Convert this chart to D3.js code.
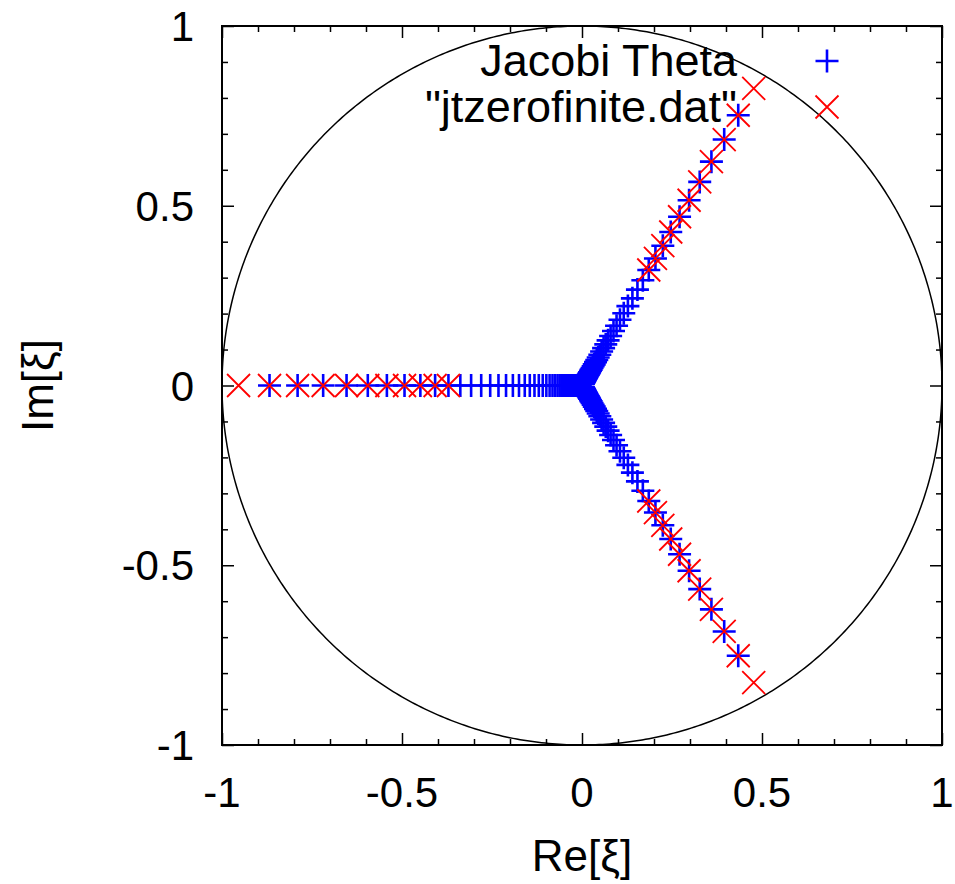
<!DOCTYPE html>
<html>
<head>
<meta charset="utf-8">
<script src="https://cdn.jsdelivr.net/npm/d3@7"></script>
<style>
  body { margin: 0; background: #fff; }
  svg text { font-family: "Liberation Sans", Arial, Helvetica, sans-serif; fill: #000; }
</style>
</head>
<body>
<svg id="chart" width="955" height="884"></svg>
<script>
// zeros lie on three rays (degrees)
const rayAngles = [180, 60, -60];

// |xi| of the "Jacobi Theta" zeros (outer to inner)
const thetaRadius = [
  0.868, 0.790, 0.719, 0.654, 0.595, 0.542, 0.493, 0.449, 0.408, 0.371,
  0.338, 0.308, 0.280, 0.255, 0.232, 0.211, 0.192, 0.175, 0.159, 0.145,
  0.132, 0.120, 0.109, 0.099, 0.090, 0.082, 0.075, 0.068, 0.062, 0.056,
  0.051, 0.047, 0.042, 0.039, 0.035, 0.032, 0.029, 0.026, 0.024, 0.022,
  0.020, 0.018, 0.017, 0.015, 0.014, 0.012, 0.011, 0.010, 0.009, 0.0085,
  0.0078, 0.0071, 0.0064, 0.0058, 0.0053
];

// |xi| of the points from "jtzerofinite.dat"
const datRadius = [
  0.954, 0.868, 0.790, 0.719, 0.654, 0.595, 0.542, 0.493, 0.449, 0.408, 0.371
];

const ticksMajor = [-1, -0.5, 0, 0.5, 1];
const ticksMinor = [-0.9, -0.8, -0.7, -0.6, -0.4, -0.3, -0.2, -0.1,
                    0.1, 0.2, 0.3, 0.4, 0.6, 0.7, 0.8, 0.9];
const legendLabels = ["Jacobi Theta", "\"jtzerofinite.dat\""];

const plot = {left: 222, right: 942, top: 26, bottom: 745};

const x = d3.scaleLinear().domain([-1, 1]).range([plot.left, plot.right]);
const y = d3.scaleLinear().domain([-1, 1]).range([plot.bottom, plot.top]);

const svg = d3.select('#chart');

// turn radius + ray into points
function toPoints(radii) {
  const pts = [];
  rayAngles.forEach(a => {
    const t = a * Math.PI / 180;
    radii.forEach(r => pts.push({re: r * Math.cos(t), im: r * Math.sin(t)}));
  });
  return pts;
}
const thetaPts = toPoints(thetaRadius);
const datPts = toPoints(datRadius);

const fontSize = 42;

// axes with inward ticks on all 4 sides
function addAxis(axis, transform, major) {
  axis.tickValues(major ? ticksMajor : ticksMinor)
    .tickSizeInner(major ? -12 : -6)
    .tickSizeOuter(0)
    .tickFormat('');
  const g = svg.append('g').attr('transform', transform).call(axis);
  g.select('.domain').remove();
  g.selectAll('line').attr('stroke', '#000').attr('stroke-width', 1.5);
}
[true, false].forEach(m => {
  addAxis(d3.axisBottom(x), `translate(0,${plot.bottom})`, m);
  addAxis(d3.axisTop(x), `translate(0,${plot.top})`, m);
  addAxis(d3.axisLeft(y), `translate(${plot.left},0)`, m);
  addAxis(d3.axisRight(y), `translate(${plot.right},0)`, m);
});

// tick labels
svg.append('g').selectAll('text')
  .data(ticksMajor).enter().append('text')
  .attr('x', d => x(d)).attr('y', plot.bottom + 62)
  .attr('text-anchor', 'middle')
  .style('font-size', fontSize + 'px')
  .text(d => String(d));

svg.append('g').selectAll('text')
  .data(ticksMajor).enter().append('text')
  .attr('x', plot.left - 28).attr('y', d => y(d) + 15)
  .attr('text-anchor', 'end')
  .style('font-size', fontSize + 'px')
  .text(d => String(d));

// axis titles
svg.append('text')
  .attr('x', x(0)).attr('y', 871)
  .attr('text-anchor', 'middle')
  .style('font-size', '44px')
  .text('Re[ξ]');

svg.append('text')
  .attr('transform', `translate(53,${y(0)}) rotate(-90)`)
  .attr('text-anchor', 'middle')
  .style('font-size', '44px')
  .text('Im[ξ]');

// unit circle
const line = d3.line().x(d => x(Math.cos(d))).y(d => y(Math.sin(d)));
svg.append('path')
  .datum(d3.range(0, 2 * Math.PI + 0.01, 0.01))
  .attr('d', line)
  .attr('fill', 'none')
  .attr('stroke', '#000')
  .attr('stroke-width', 1.5);

// markers
const half = 11.5;
function plus(g, cx, cy) {
  g.append('path')
    .attr('d', `M${cx - half},${cy}H${cx + half}M${cx},${cy - half}V${cy + half}`)
    .attr('stroke', '#0000ff').attr('stroke-width', 2.6).attr('fill', 'none');
}
function cross(g, cx, cy) {
  g.append('path')
    .attr('d', `M${cx - half},${cy - half}L${cx + half},${cy + half}M${cx - half},${cy + half}L${cx + half},${cy - half}`)
    .attr('stroke', '#ff0000').attr('stroke-width', 1.8).attr('fill', 'none');
}

const thetaG = svg.append('g');
thetaPts.forEach(p => plus(thetaG, x(p.re), y(p.im)));
const datG = svg.append('g');
datPts.forEach(p => cross(datG, x(p.re), y(p.im)));

// border
svg.append('rect')
  .attr('x', plot.left).attr('y', plot.top)
  .attr('width', plot.right - plot.left).attr('height', plot.bottom - plot.top)
  .attr('fill', 'none').attr('stroke', '#000').attr('stroke-width', 2);

// legend
const legY = [61, 107];
legendLabels.forEach((t, i) => {
  svg.append('text')
    .attr('x', 737).attr('y', legY[i] + 15)
    .attr('text-anchor', 'end')
    .style('font-size', '45px')
    .text(t);
});
plus(svg, 827, legY[0]);
cross(svg, 827, legY[1]);
</script>
</body>
</html>
